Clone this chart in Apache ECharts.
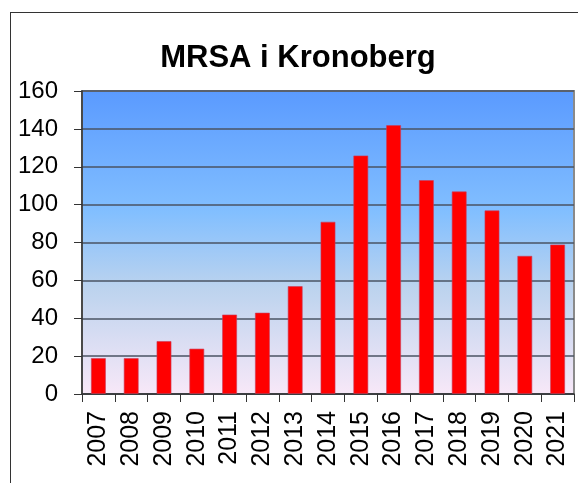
<!DOCTYPE html>
<html>
<head>
<meta charset="utf-8">
<script src="https://cdn.jsdelivr.net/npm/echarts@6/dist/echarts.min.js"></script>
<style>
  html, body { margin: 0; padding: 0; background: #fff; }
  #wrap { position: relative; width: 578px; height: 483px; overflow: hidden; }
  #frame { position: absolute; left: 10px; top: 12px; width: 600px; height: 500px;
           border-left: 1px solid #333; border-top: 1px solid #333; }
  #chart { position: absolute; left: 0; top: 0; width: 578px; height: 483px; }
</style>
</head>
<body>
<div id="wrap">
  <div id="frame"></div>
  <div id="chart"></div>
</div>
<script>
const years = ['2007', '2008', '2009', '2010', '2011', '2012', '2013', '2014',
               '2015', '2016', '2017', '2018', '2019', '2020', '2021'];
const cases = [19, 19, 28, 24, 42, 43, 57, 91, 126, 142, 113, 107, 97, 73, 79];
const yTicks = { min: 0, max: 160, interval: 20 };

const font = 'Liberation Sans, Arial, sans-serif';
const chart = echarts.init(document.getElementById('chart'));

const option = {
    animation: false,
    title: {
        text: 'MRSA i Kronoberg',
        left: 293,
        top: 38,
        textAlign: 'center',
        textStyle: { fontFamily: font, fontSize: 31, fontWeight: 'bold', color: '#000' }
    },
    grid: {
        left: 82, right: 4, top: 91, bottom: 89,
        show: true,
        borderColor: '#8a8a8a',
        borderWidth: 2,
        backgroundColor: new echarts.graphic.LinearGradient(0, 0, 0, 1, [
            { offset: 0, color: '#5a9aff' },
            { offset: 0.4, color: '#82bfff' },
            { offset: 0.65, color: '#bcd3ee' },
            { offset: 1, color: '#f8e8f8' }
        ])
    },
    xAxis: {
        type: 'category',
        data: years,
        axisLine: { lineStyle: { color: '#333', width: 1.5 } },
        axisTick: { show: true, length: 8, lineStyle: { color: '#333' } },
        axisLabel: { rotate: 90, margin: 17, fontSize: 25, fontFamily: font, color: '#000' }
    },
    yAxis: {
        type: 'value',
        min: yTicks.min,
        max: yTicks.max,
        interval: yTicks.interval,
        axisLine: { show: true, lineStyle: { color: '#333', width: 1.5 } },
        axisTick: { show: true, length: 8, lineStyle: { color: '#333' } },
        axisLabel: { margin: 24, fontSize: 24, fontFamily: font, color: '#000' },
        splitLine: { lineStyle: { color: '#4a5363', width: 1.5 } }
    },
    series: [{
        type: 'bar',
        data: cases,
        barWidth: '46%',
        itemStyle: {
            color: '#ff0000',
            borderColor: 'rgba(200,60,90,0.6)',
            borderWidth: 1
        }
    }]
};

chart.setOption(option);
</script>
</body>
</html>
